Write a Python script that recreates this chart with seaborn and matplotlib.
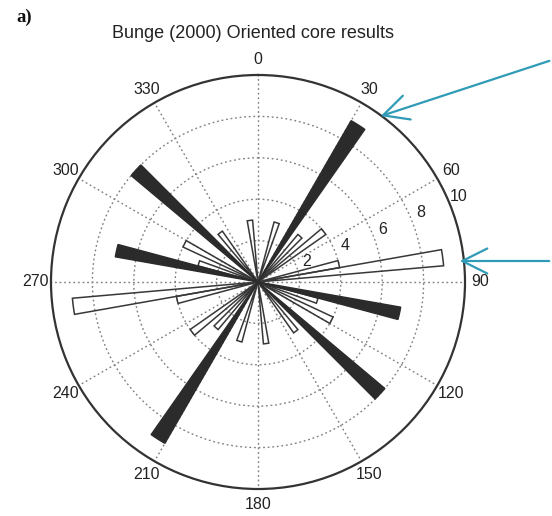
import numpy as np
import matplotlib
matplotlib.use("Agg")
import matplotlib.pyplot as plt
import seaborn as sns

# ---- data (rose diagram, 5-degree bins, counts) ----
black_angles = [32.5, 102.5, 132.5, 212.5, 282.5, 312.5]
black_counts = [9, 7, 8, 9, 7, 8]

white_angles = [17.5, 42.5, 52.5, 77.5, 82.5, 107.5, 117.5, 142.5, 172.5,
                197.5, 222.5, 232.5, 257.5, 262.5, 287.5, 297.5, 322.5, 352.5]
white_counts = [3, 3, 4, 4, 9, 3, 4, 3, 3,
                3, 3, 4, 4, 9, 3, 4, 3, 3]

bin_width_deg = 5
theta_ticks = [0, 30, 60, 90, 120, 150, 180, 210, 240, 270, 300, 330]
r_ticks = [2, 4, 6, 8, 10]
title = "Bunge (2000) Oriented core results"
panel_label = "a)"

sns.set_style("white")
plt.rcParams["font.family"] = ["Liberation Sans", "DejaVu Sans"]

fig = plt.figure(figsize=(5.52, 5.16), dpi=100)
ax = fig.add_axes([51 / 552, 1 - 489 / 516, 414 / 552, 414 / 516], projection="polar")
ax.set_theta_zero_location("N")
ax.set_theta_direction(-1)
ax.set_ylim(0, 10)

# grid
ax.set_xticks(np.deg2rad(theta_ticks))
ax.set_xticklabels([])
ax.set_yticks(r_ticks[:-1])
ax.set_yticklabels([])
ax.grid(True, color="#808080", linestyle=(0, (1.3, 2.0)), linewidth=1.0)
ax.spines["polar"].set_color("#333333")
ax.spines["polar"].set_linewidth(1.6)

w = np.deg2rad(bin_width_deg)
ax.bar(np.deg2rad(white_angles), white_counts, width=w, bottom=0,
       facecolor="none", edgecolor="#383838", linewidth=1.1, zorder=3)
ax.bar(np.deg2rad(black_angles), black_counts, width=w, bottom=0,
       facecolor="#2b2b2b", edgecolor="#2b2b2b", linewidth=1.0, zorder=4)

# angle labels
for t in theta_ticks:
    ax.text(np.deg2rad(t), 10.75, str(t), ha="center", va="center",
            fontsize=11.5, color="#222222", clip_on=False)
# radial labels
for r in r_ticks:
    ax.text(np.deg2rad(67), r + 0.55, str(r), ha="center", va="center",
            fontsize=11.5, color="#222222", clip_on=False, zorder=5)

fig.text(253 / 552, 1 - 33 / 516, title, ha="center", va="center",
         fontsize=13, color="#222222")
fig.text(16 / 552, 1 - 17 / 516, panel_label, ha="left", va="center",
         fontsize=13.5, fontweight="bold", family="Liberation Serif", color="#111111")

teal = "#2f9bb7"
for (x0, y0), (x1, y1) in [((552, 60), (378, 117)), ((552, 261), (457, 261))]:
    fig.add_artist(matplotlib.patches.FancyArrowPatch(
        (x0 / 552, 1 - y0 / 516), (x1 / 552, 1 - y1 / 516),
        transform=fig.transFigure, arrowstyle="->,head_length=0.9,head_width=0.45",
        mutation_scale=20, color=teal, linewidth=1.6))

fig.savefig("out.png", dpi=100)
